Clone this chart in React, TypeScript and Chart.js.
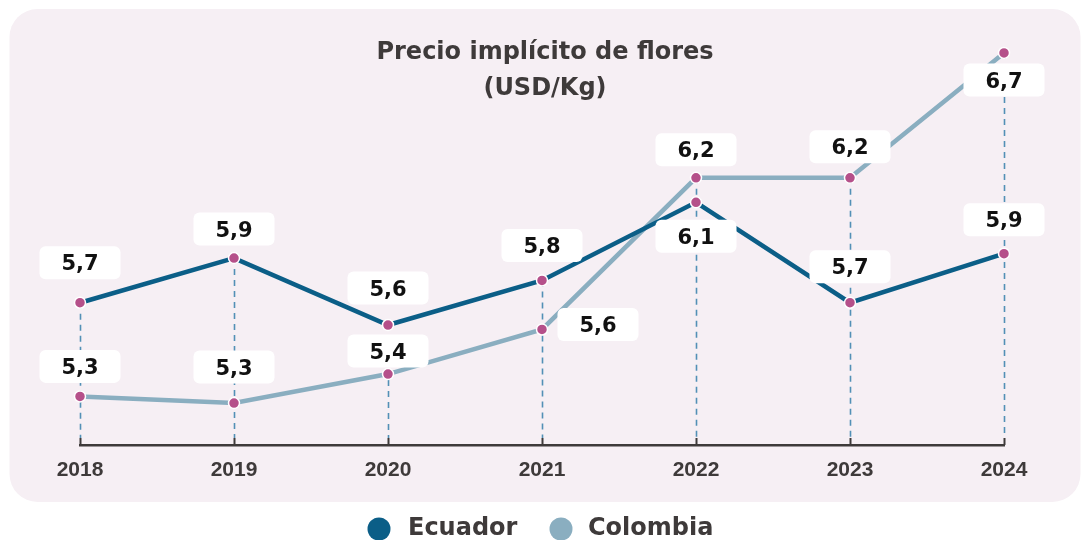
import React, { useEffect, useRef } from "react";
import { Chart, registerables } from "chart.js";

Chart.register(...registerables);

const years = ["2018", "2019", "2020", "2021", "2022", "2023", "2024"];
const seriesNames = ["Ecuador", "Colombia"];
const ecuadorValues = [5.7, 5.9, 5.6, 5.8, 6.15, 5.7, 5.92];
const colombiaValues = [5.28, 5.25, 5.38, 5.58, 6.26, 6.26, 6.82];
const ecuadorLabels = ["5,7", "5,9", "5,6", "5,8", "6,1", "5,7", "5,9"];
const colombiaLabels = ["5,3", "5,3", "5,4", "5,6", "6,2", "6,2", "6,7"];
const titleLines = ["Precio implícito de flores", "(USD/Kg)"];

// label placement relative to each point [dx, dy]
const ecuadorLabelOffsets = [[0, -40], [0, -29], [0, -37], [0, -35], [0, 34], [0, -36], [0, -34]];
const colombiaLabelOffsets = [[0, -30], [0, -36], [0, -23], [56, -5], [0, -28], [0, -31], [0, 27]];

const COLORS = {
  panel: "#f6eff4",
  text: "#3e3a3a",
  ecuador: "#0b5e87",
  colombia: "#8aaec0",
  point: "#b5508a",
  dash: "#5290b6",
};

function roundRect(ctx: CanvasRenderingContext2D, x: number, y: number, w: number, h: number, r: number) {
  ctx.beginPath();
  ctx.moveTo(x + r, y);
  ctx.lineTo(x + w - r, y);
  ctx.arcTo(x + w, y, x + w, y + r, r);
  ctx.lineTo(x + w, y + h - r);
  ctx.arcTo(x + w, y + h, x + w - r, y + h, r);
  ctx.lineTo(x + r, y + h);
  ctx.arcTo(x, y + h, x, y + h - r, r);
  ctx.lineTo(x, y + r);
  ctx.arcTo(x, y, x + r, y, r);
  ctx.closePath();
}

const decorPlugin = {
  id: "decor",
  beforeDraw(chart: any) {
    const ctx = chart.ctx as CanvasRenderingContext2D;
    ctx.save();
    ctx.fillStyle = COLORS.panel;
    roundRect(ctx, 9.5, 9, 1071, 493, 28);
    ctx.fill();

    ctx.fillStyle = COLORS.text;
    ctx.font = 'bold 24px "DejaVu Sans"';
    ctx.textAlign = "center";
    ctx.textBaseline = "alphabetic";
    ctx.fillText(titleLines[0], 545, 59);
    ctx.fillText(titleLines[1], 545, 95);

    // legend
    const legendItems = [
      { name: seriesNames[0], color: COLORS.ecuador, cx: 379, tx: 408 },
      { name: seriesNames[1], color: COLORS.colombia, cx: 561, tx: 588 },
    ];
    ctx.font = 'bold 24px "DejaVu Sans"';
    ctx.textAlign = "left";
    legendItems.forEach((it) => {
      ctx.fillStyle = it.color;
      ctx.beginPath();
      ctx.arc(it.cx, 529, 11.5, 0, Math.PI * 2);
      ctx.fill();
      ctx.fillStyle = COLORS.text;
      ctx.fillText(it.name, it.tx, 535);
    });
    ctx.restore();
  },
  beforeDatasetsDraw(chart: any) {
    const ctx = chart.ctx as CanvasRenderingContext2D;
    const xs = chart.scales.x;
    const ys = chart.scales.y;
    const bottom = chart.chartArea.bottom;
    ctx.save();
    years.forEach((_, i) => {
      const px = Math.round(xs.getPixelForValue(i)) + 0.5;
      const top = ys.getPixelForValue(Math.max(ecuadorValues[i], colombiaValues[i]));
      ctx.strokeStyle = COLORS.dash;
      ctx.lineWidth = 1.6;
      ctx.setLineDash([6, 5]);
      ctx.beginPath();
      ctx.moveTo(px, top);
      ctx.lineTo(px, bottom - 7);
      ctx.stroke();
      ctx.setLineDash([]);
      ctx.strokeStyle = COLORS.text;
      ctx.lineWidth = 2;
      ctx.beginPath();
      ctx.moveTo(px, bottom - 7);
      ctx.lineTo(px, bottom);
      ctx.stroke();
    });
    ctx.restore();
  },
  afterDatasetsDraw(chart: any) {
    const ctx = chart.ctx as CanvasRenderingContext2D;
    const sets = [
      { labels: ecuadorLabels, offsets: ecuadorLabelOffsets, meta: chart.getDatasetMeta(0) },
      { labels: colombiaLabels, offsets: colombiaLabelOffsets, meta: chart.getDatasetMeta(1) },
    ];
    ctx.save();
    ctx.font = 'bold 21px "DejaVu Sans"';
    ctx.textAlign = "center";
    ctx.textBaseline = "alphabetic";
    sets.forEach((s) => {
      s.meta.data.forEach((el: any, i: number) => {
        const cx = el.x + s.offsets[i][0];
        const cy = el.y + s.offsets[i][1];
        ctx.fillStyle = "#ffffff";
        roundRect(ctx, cx - 40.5, cy - 16.5, 81, 33, 6);
        ctx.fill();
        ctx.fillStyle = "#111111";
        ctx.fillText(s.labels[i], cx, cy + 7.6);
      });
    });
    ctx.restore();
  },
};

export default function App() {
  const canvasRef = useRef<HTMLCanvasElement | null>(null);

  useEffect(() => {
    if (!canvasRef.current) return;
    const pointStyle = {
      pointRadius: 5.5,
      pointBackgroundColor: COLORS.point,
      pointBorderColor: "#ffffff",
      pointBorderWidth: 1.5,
      tension: 0,
      clip: false as any,
    };
    const chart = new Chart(canvasRef.current, {
      type: "line",
      data: {
        labels: years,
        datasets: [
          { label: seriesNames[0], data: ecuadorValues, borderColor: COLORS.ecuador, borderWidth: 4.5, ...pointStyle },
          { label: seriesNames[1], data: colombiaValues, borderColor: COLORS.colombia, borderWidth: 4.5, ...pointStyle },
        ],
      },
      options: {
        animation: false,
        responsive: true,
        maintainAspectRatio: false,
        events: [],
        layout: { padding: { left: 80, right: 81, top: 40, bottom: 0 } },
        plugins: {
          legend: { display: false },
          title: { display: false },
          tooltip: { enabled: false },
        },
        scales: {
          x: {
            type: "category",
            offset: false,
            grid: { display: false, drawTicks: false },
            border: { display: true, color: COLORS.text, width: 2.5 },
            ticks: {
              color: COLORS.text,
              font: { family: '"Liberation Sans", Arial, sans-serif', size: 21, weight: "bold" },
              padding: 13,
              maxRotation: 0,
              autoSkip: false,
            },
            afterFit: (scale: any) => {
              scale.height = 95;
            },
          },
          y: {
            display: false,
            min: 5.062,
            max: 6.878,
          },
        },
      },
      plugins: [decorPlugin],
    });
    return () => chart.destroy();
  }, []);

  return (
    <div style={{ position: "absolute", left: 0, top: 0, width: 1085, height: 540 }}>
      <canvas ref={canvasRef} />
    </div>
  );
}
